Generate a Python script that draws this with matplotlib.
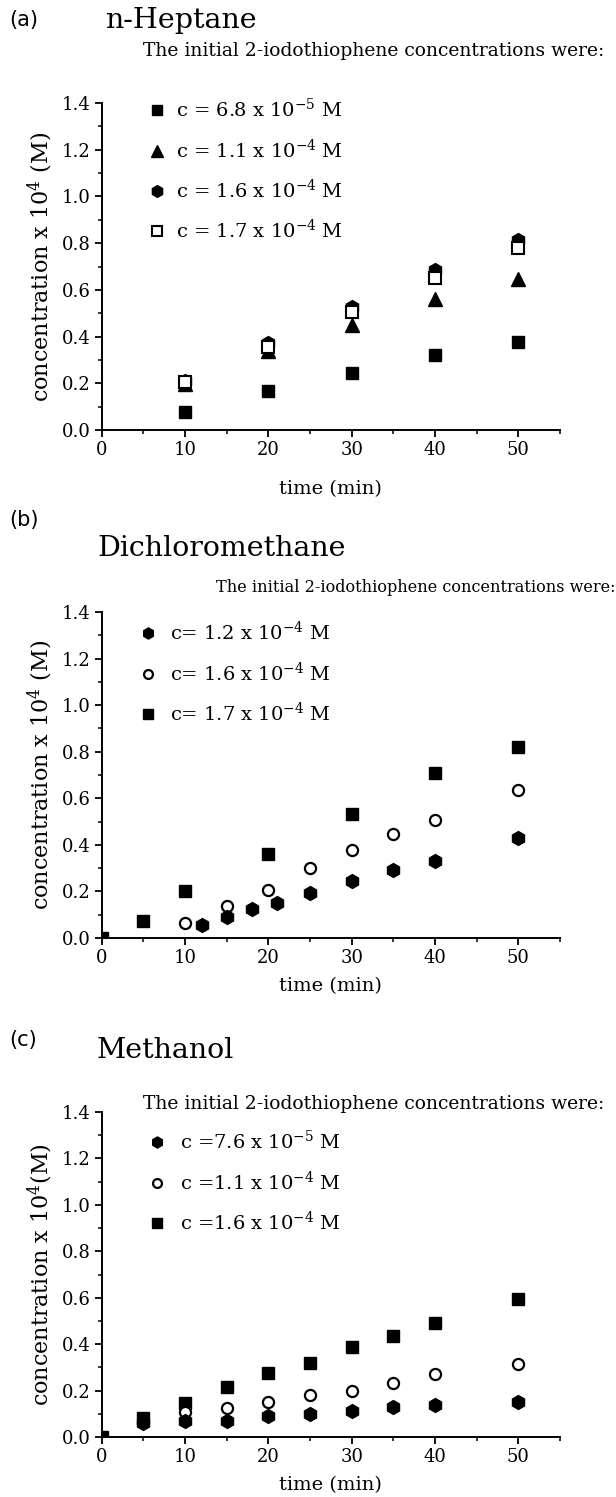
import matplotlib
matplotlib.use("Agg")
import matplotlib.pyplot as plt
from matplotlib.ticker import MultipleLocator, FormatStrFormatter

# ---------------- data ----------------
# (a) n-Heptane
a_time = [10, 20, 30, 40, 50]
a_c68e5 = [0.076, 0.169, 0.243, 0.319, 0.377]
a_c11e4 = [0.195, 0.340, 0.450, 0.560, 0.646]
a_c16e4 = [0.210, 0.371, 0.526, 0.686, 0.814]
a_c17e4 = [0.207, 0.354, 0.504, 0.650, 0.779]
a_labels = ["c = 6.8 x 10$^{-5}$ M", "c = 1.1 x 10$^{-4}$ M",
            "c = 1.6 x 10$^{-4}$ M", "c = 1.7 x 10$^{-4}$ M"]

# (b) Dichloromethane
b_time12 = [12, 15, 18, 21, 25, 30, 35, 40, 50]
b_c12e4 = [0.054, 0.090, 0.124, 0.150, 0.193, 0.243, 0.290, 0.330, 0.431]
b_time16 = [10, 15, 20, 25, 30, 35, 40, 50]
b_c16e4 = [0.064, 0.139, 0.207, 0.300, 0.379, 0.446, 0.506, 0.637]
b_time17 = [0, 5, 10, 20, 30, 40, 50]
b_c17e4 = [0.000, 0.074, 0.200, 0.361, 0.531, 0.707, 0.819]
b_labels = ["c= 1.2 x 10$^{-4}$ M", "c= 1.6 x 10$^{-4}$ M", "c= 1.7 x 10$^{-4}$ M"]

# (c) Methanol
c_time76 = [5, 10, 15, 20, 25, 30, 35, 40, 50]
c_c76e5 = [0.060, 0.069, 0.071, 0.089, 0.097, 0.111, 0.129, 0.139, 0.150]
c_time11 = [10, 15, 20, 25, 30, 35, 40, 50]
c_c11e4 = [0.107, 0.124, 0.150, 0.179, 0.200, 0.233, 0.271, 0.314]
c_time16 = [0, 5, 10, 15, 20, 25, 30, 35, 40, 50]
c_c16e4 = [0.000, 0.080, 0.146, 0.214, 0.274, 0.319, 0.386, 0.436, 0.493, 0.593]
c_labels = ["c =7.6 x 10$^{-5}$ M", "c =1.1 x 10$^{-4}$ M", "c =1.6 x 10$^{-4}$ M"]

panel_letters = ["(a)", "(b)", "(c)"]
solvents = ["n-Heptane", "Dichloromethane", "Methanol"]
subtitle = "The initial 2-iodothiophene concentrations were:"
xlabel = "time (min)"
ylabels = ["concentration x 10$^4$ (M)", "concentration x 10$^4$ (M)",
           "concentration x 10$^4$(M)"]

# ---------------- style ----------------
plt.rcParams['font.family'] = ['DejaVu Serif']
plt.rcParams['mathtext.fontset'] = 'dejavuserif'

W, H = 616, 1497
fig = plt.figure(figsize=(W / 100, H / 100), dpi=100)


def fx(x):
    return x / W


def fy(y):
    return 1 - y / H


def make_axes(y0_px, y14_px):
    left = fx(101.7)
    width = (560 - 101.7) / W
    bottom = fy(y0_px)
    height = (y0_px - y14_px) / H
    ax = fig.add_axes([left, bottom, width, height])
    ax.set_xlim(0, 55)
    ax.set_ylim(0, 1.4)
    for s in ['top', 'right']:
        ax.spines[s].set_visible(False)
    for s in ['left', 'bottom']:
        ax.spines[s].set_linewidth(1.4)
    ax.xaxis.set_major_locator(MultipleLocator(10))
    ax.xaxis.set_minor_locator(MultipleLocator(5))
    ax.yaxis.set_major_locator(MultipleLocator(0.2))
    ax.yaxis.set_minor_locator(MultipleLocator(0.1))
    ax.yaxis.set_major_formatter(FormatStrFormatter('%.1f'))
    ax.tick_params(which='major', length=5, width=1.3, labelsize=13,
                   direction='out', pad=3)
    ax.tick_params(which='minor', length=3, width=1.1, direction='out')
    return ax


common = dict(linestyle='none', color='black', clip_on=True)
leg_kw = dict(loc='upper left', frameon=False, fontsize=14, handlelength=1.0,
              labelspacing=0.87, borderpad=0, borderaxespad=0)

# ---------- panel a ----------
axa = make_axes(430, 103)
la1, = axa.plot(a_time, a_c68e5, marker='s', ms=9, **common)
la2, = axa.plot(a_time, a_c11e4, marker='^', ms=10, **common)
la3, = axa.plot(a_time, a_c16e4, marker='h', ms=10, **common)
la4, = axa.plot(a_time, a_c17e4, marker='s', ms=8.5, mfc='white', mew=1.5, **common)
axa.set_xlabel(xlabel, fontsize=14, labelpad=15)
axa.set_ylabel(ylabels[0], fontsize=16, labelpad=5)
fig.legend([la1, la2, la3, la4], a_labels, bbox_to_anchor=(fx(147), fy(98)),
           handletextpad=0.5, markerscale=0.85, **leg_kw)

# ---------- panel b ----------
axb = make_axes(938, 612)
lb3, = axb.plot(b_time17, b_c17e4, marker='s', ms=9, **common)
lb2, = axb.plot(b_time16, b_c16e4, marker='o', ms=8, mfc='white', mew=1.6, **common)
lb1, = axb.plot(b_time12, b_c12e4, marker='h', ms=10, **common)
axb.set_xlabel(xlabel, fontsize=14, labelpad=7)
axb.set_ylabel(ylabels[1], fontsize=16, labelpad=5)
fig.legend([lb1, lb2, lb3], b_labels, bbox_to_anchor=(fx(138), fy(621)),
           handletextpad=0.62, markerscale=0.8, **leg_kw)

# ---------- panel c ----------
axc = make_axes(1437, 1112)
lc3, = axc.plot(c_time16, c_c16e4, marker='s', ms=9, **common)
lc2, = axc.plot(c_time11, c_c11e4, marker='o', ms=8, mfc='white', mew=1.6, **common)
lc1, = axc.plot(c_time76, c_c76e5, marker='h', ms=10, **common)
axc.set_xlabel(xlabel, fontsize=14, labelpad=7)
axc.set_ylabel(ylabels[2], fontsize=16, labelpad=5)
fig.legend([lc1, lc2, lc3], c_labels, bbox_to_anchor=(fx(147), fy(1130)),
           handletextpad=0.7, markerscale=0.8, **leg_kw)

# ---------- headers ----------
sans = ['DejaVu Sans']
letter_y = [20, 520, 1040]
solvent_xy = [(105, 20), (97, 548), (97, 1050)]
subtitle_xy = [(143, 51), (216, 588), (143, 1104)]
subtitle_size = [13.5, 11.6, 13.5]
for i in range(3):
    fig.text(fx(9), fy(letter_y[i]), panel_letters[i], family=sans, fontsize=15,
             va='center', ha='left')
    fig.text(fx(solvent_xy[i][0]), fy(solvent_xy[i][1]), solvents[i], fontsize=20.5,
             va='center', ha='left')
    fig.text(fx(subtitle_xy[i][0]), fy(subtitle_xy[i][1]), subtitle,
             fontsize=subtitle_size[i], va='center', ha='left')

fig.savefig("out.png", dpi=100)
